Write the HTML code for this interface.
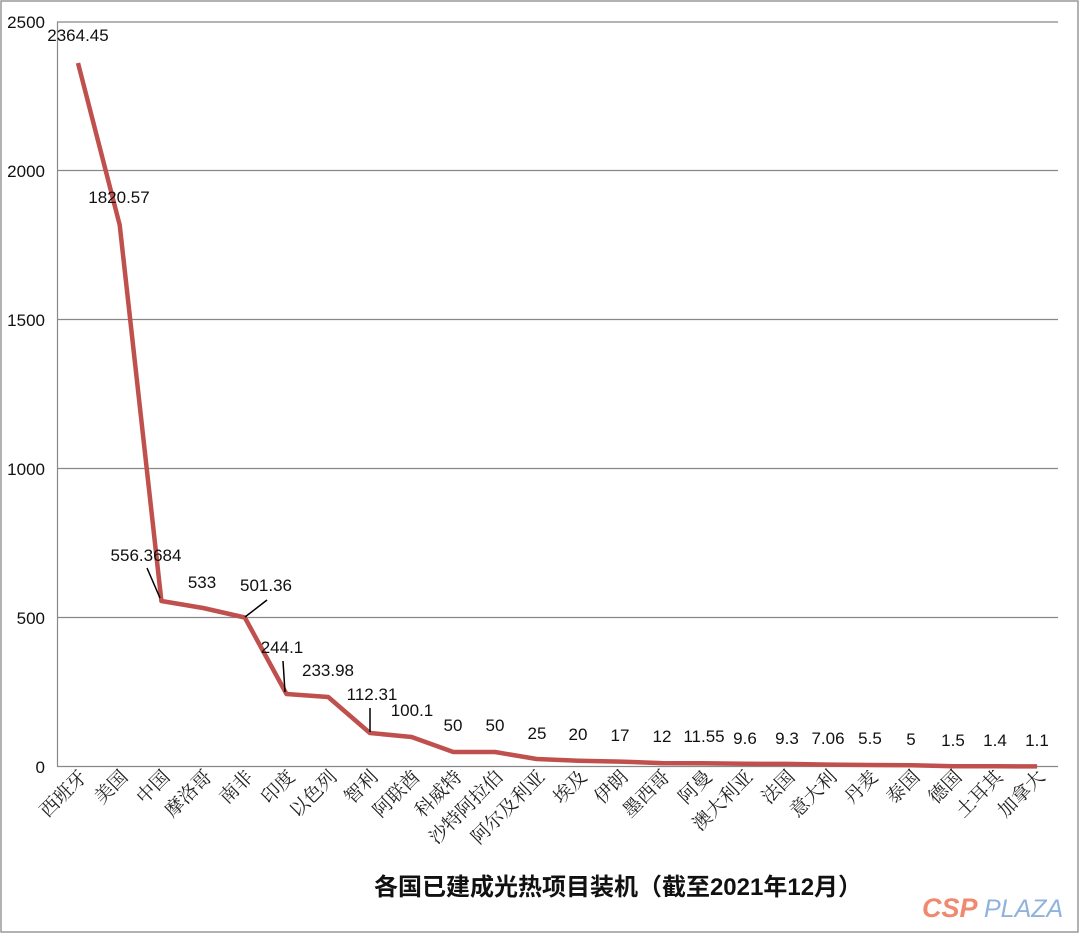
<!DOCTYPE html>
<html><head><meta charset="utf-8"><style>
html,body{margin:0;padding:0;background:#fff}
svg{display:block}
.t{font-family:"Liberation Sans","Noto Sans CJK SC",sans-serif;font-size:17px;fill:#111}
.c{font-family:"Noto Serif CJK SC","Liberation Serif",serif;font-size:19px;fill:#222}
</style></head><body>
<svg width="1080" height="934" xmlns="http://www.w3.org/2000/svg">
<rect x="1" y="1" width="1077" height="931" fill="#fff" stroke="#999" stroke-width="1.5"/>
<g stroke="#888" stroke-width="1.2">
<line x1="57" y1="22" x2="1058" y2="22"/>
<line x1="57" y1="170.5" x2="1058" y2="170.5"/>
<line x1="57" y1="319.5" x2="1058" y2="319.5"/>
<line x1="57" y1="468.5" x2="1058" y2="468.5"/>
<line x1="57" y1="617.5" x2="1058" y2="617.5"/>
<line x1="57" y1="766.5" x2="1058" y2="766.5"/>
<line x1="57.5" y1="22" x2="57.5" y2="767"/>
</g>
<g class="t" text-anchor="end">
<text x="45" y="28">2500</text>
<text x="45" y="177">2000</text>
<text x="45" y="326">1500</text>
<text x="45" y="475">1000</text>
<text x="45" y="624">500</text>
<text x="45" y="773">0</text>
</g>
<polyline fill="none" stroke="#c0504d" stroke-width="4.5" stroke-linejoin="round"
points="78,63 119.7,225 161.4,601 203.1,608 244.8,617.5 286.5,694 328.2,697 369.9,733 411.6,737 453.3,752 495,752 536.7,759 578.4,760.7 620.1,761.6 661.8,763.1 703.5,763.3 745.2,763.8 786.9,763.9 828.6,764.6 870.3,765 912,765.2 953.7,766.2 995.4,766.3 1037.1,766.4"/>
<g stroke="#000" stroke-width="1.5">
<line x1="147" y1="568" x2="160" y2="598"/>
<line x1="245" y1="617" x2="267" y2="600"/>
<line x1="283" y1="661" x2="285" y2="692"/>
<line x1="370" y1="708" x2="370" y2="732"/>
</g>
<g class="t" text-anchor="middle">
<text x="78" y="41">2364.45</text>
<text x="119" y="203">1820.57</text>
<text x="146" y="561">556.3684</text>
<text x="202" y="588">533</text>
<text x="266" y="591">501.36</text>
<text x="282" y="653">244.1</text>
<text x="328" y="676">233.98</text>
<text x="372" y="700">112.31</text>
<text x="412" y="716">100.1</text>
<text x="453" y="731">50</text>
<text x="495" y="731">50</text>
<text x="537" y="739">25</text>
<text x="578" y="740">20</text>
<text x="620" y="741">17</text>
<text x="662" y="742">12</text>
<text x="704" y="742">11.55</text>
<text x="745" y="744">9.6</text>
<text x="787" y="744">9.3</text>
<text x="828" y="744">7.06</text>
<text x="870" y="744">5.5</text>
<text x="911" y="745">5</text>
<text x="953" y="746">1.5</text>
<text x="995" y="746">1.4</text>
<text x="1037" y="746">1.1</text>
</g>
<g class="c" text-anchor="end">
<text transform="translate(88,778) rotate(-45)">西班牙</text>
<text transform="translate(129,778) rotate(-45)">美国</text>
<text transform="translate(171,778) rotate(-45)">中国</text>
<text transform="translate(213,778) rotate(-45)">摩洛哥</text>
<text transform="translate(254,778) rotate(-45)">南非</text>
<text transform="translate(296,778) rotate(-45)">印度</text>
<text transform="translate(338,778) rotate(-45)">以色列</text>
<text transform="translate(379,778) rotate(-45)">智利</text>
<text transform="translate(421,778) rotate(-45)">阿联酋</text>
<text transform="translate(463,778) rotate(-45)">科威特</text>
<text transform="translate(504,778) rotate(-45)">沙特阿拉伯</text>
<text transform="translate(546,778) rotate(-45)">阿尔及利亚</text>
<text transform="translate(588,778) rotate(-45)">埃及</text>
<text transform="translate(629,778) rotate(-45)">伊朗</text>
<text transform="translate(671,778) rotate(-45)">墨西哥</text>
<text transform="translate(713,778) rotate(-45)">阿曼</text>
<text transform="translate(754,778) rotate(-45)">澳大利亚</text>
<text transform="translate(796,778) rotate(-45)">法国</text>
<text transform="translate(838,778) rotate(-45)">意大利</text>
<text transform="translate(879,778) rotate(-45)">丹麦</text>
<text transform="translate(921,778) rotate(-45)">泰国</text>
<text transform="translate(963,778) rotate(-45)">德国</text>
<text transform="translate(1004,778) rotate(-45)">土耳其</text>
<text transform="translate(1046,778) rotate(-45)">加拿大</text>
</g>
<text x="618" y="895" text-anchor="middle" style="font-family:'Liberation Sans','Noto Sans CJK SC',sans-serif;font-size:24px;font-weight:bold;fill:#111">各国已建成光热项目装机（截至2021年12月）</text>
<text x="922" y="917" style="font-family:'Liberation Sans',sans-serif;font-size:27px;font-weight:bold;font-style:italic;fill:#ef8a70">CSP</text>
<text x="984" y="917" style="font-family:'Liberation Sans',sans-serif;font-size:25px;font-style:italic;fill:#8fb3dc">PLAZA</text>
</svg>
</body></html>
